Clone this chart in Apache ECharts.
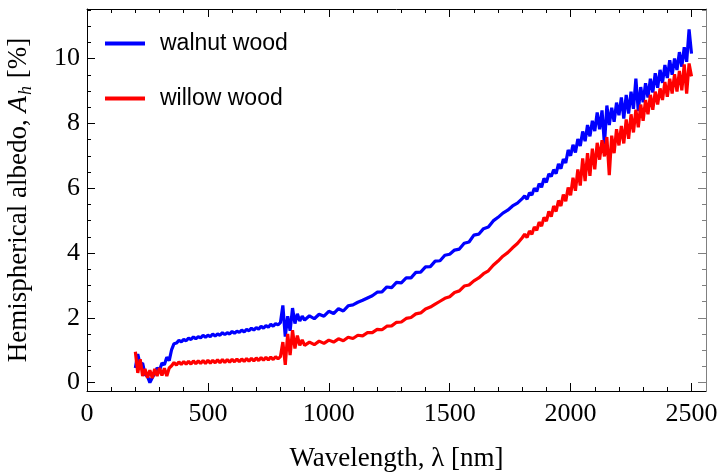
<!DOCTYPE html>
<html lang="en">
<head>
<meta charset="utf-8">
<title>Hemispherical albedo</title>
<script src="https://cdn.jsdelivr.net/npm/echarts@6/dist/echarts.min.js"></script>
<style>
  html, body { margin: 0; padding: 0; background: #fff; }
  #main { width: 719px; height: 473px; }
</style>
</head>
<body>
<div id="main"></div>
<script>
// wavelength grid in nm
const wavelength = [
  200, 210, 220, 230, 240, 250, 260, 270, 280, 290,
  300, 310, 320, 330, 340, 350, 360, 370, 380, 390,
  400, 410, 420, 430, 440, 450, 460, 470, 480, 490,
  500, 510, 520, 530, 540, 550, 560, 570, 580, 590,
  600, 610, 620, 630, 640, 650, 660, 670, 680, 690,
  700, 710, 720, 730, 740, 750, 760, 770, 780, 790,
  800, 810, 820, 830, 840, 850, 860, 870, 880, 890,
  900,
  920, 940, 960, 980, 1000, 1020, 1040, 1060, 1080, 1100,
  1120, 1140, 1160, 1180, 1200, 1220, 1240, 1260, 1280, 1300,
  1320, 1340, 1360, 1380, 1400, 1420, 1440, 1460, 1480, 1500,
  1520, 1540, 1560, 1580, 1600, 1620, 1640, 1660, 1680, 1700,
  1720, 1740, 1760, 1780, 1800,
  1810, 1820, 1830, 1840, 1850, 1860, 1870, 1880, 1890, 1900,
  1910, 1920, 1930, 1940, 1950, 1960, 1970, 1980, 1990, 2000,
  2010, 2020, 2030, 2040, 2050, 2060, 2070, 2080, 2090, 2100,
  2110, 2120, 2130, 2140, 2150, 2160, 2170, 2180, 2190, 2200,
  2210, 2220, 2230, 2240, 2250, 2260, 2270, 2280, 2290, 2300,
  2310, 2320, 2330, 2340, 2350, 2360, 2370, 2380, 2390, 2400,
  2410, 2420, 2430, 2440, 2450, 2460, 2470, 2480, 2490, 2500
];

// hemispherical albedo [%], walnut wood (blue)
const walnut = [
  0.45, 0.88, 0.55, 0.6, 0.25, 0.2, 0.0, 0.15, 0.28, 0.45,
  0.38, 0.6, 0.55, 0.78, 0.68, 1.02, 1.2, 1.22, 1.3, 1.26,
  1.33, 1.29, 1.37, 1.33, 1.41, 1.35, 1.42, 1.38, 1.46, 1.4,
  1.46, 1.42, 1.5, 1.44, 1.5, 1.46, 1.54, 1.48, 1.54, 1.5,
  1.58, 1.52, 1.59, 1.55, 1.62, 1.56, 1.64, 1.6, 1.68, 1.62,
  1.7, 1.65, 1.74, 1.68, 1.76, 1.71, 1.8, 1.74, 1.82, 1.78,
  1.85, 2.38, 1.42, 2.05, 1.6, 2.3, 1.82, 2.12, 1.9, 2.05,
  1.93,
  2.06, 1.97, 2.11, 2.05, 2.2, 2.13, 2.28, 2.21, 2.37, 2.4,
  2.48, 2.54, 2.61, 2.68, 2.79, 2.8, 2.95, 2.93, 3.09, 3.08,
  3.23, 3.23, 3.4, 3.41, 3.57, 3.58, 3.75, 3.76, 3.93, 3.96,
  4.09, 4.12, 4.3, 4.34, 4.55, 4.58, 4.75, 4.8, 4.99, 5.1,
  5.23, 5.32, 5.45, 5.54, 5.68,
  5.76, 5.66, 5.86, 5.79, 6.0, 5.9, 6.14, 6.03, 6.3, 6.18,
  6.44, 6.36, 6.57, 6.45, 6.75, 6.6, 6.9, 6.78, 7.18, 7.0,
  7.34, 7.1, 7.52, 7.3, 7.75, 7.45, 7.95, 7.6, 8.08, 7.76,
  8.34, 7.82, 8.4, 7.35, 8.55, 7.95, 8.48, 8.05, 8.64, 8.25,
  8.8, 8.15, 8.88, 8.3, 8.98, 8.45, 9.38, 8.38, 9.12, 8.65,
  9.24, 8.8, 9.38, 8.95, 9.55, 9.1, 9.65, 9.25, 9.8, 9.4,
  9.95, 9.5, 10.0, 9.65, 10.2, 9.75, 10.35, 9.9, 10.9, 10.15
];

// hemispherical albedo [%], willow wood (red)
const willow = [
  0.95, 0.3, 0.72, 0.2, 0.42, 0.15, 0.38, 0.14, 0.42, 0.2,
  0.45, 0.22, 0.44, 0.2, 0.45, 0.52, 0.62, 0.54, 0.64, 0.56,
  0.65, 0.57, 0.66, 0.57, 0.67, 0.58, 0.67, 0.59, 0.68, 0.59,
  0.69, 0.6, 0.69, 0.61, 0.7, 0.61, 0.71, 0.62, 0.71, 0.63,
  0.72, 0.64, 0.73, 0.64, 0.73, 0.65, 0.74, 0.66, 0.75, 0.67,
  0.76, 0.68, 0.77, 0.69, 0.78, 0.7, 0.79, 0.71, 0.8, 0.73,
  0.8, 1.25, 0.55, 1.5, 0.85, 1.62, 1.05, 1.45, 1.15, 1.32,
  1.15,
  1.25, 1.17, 1.28, 1.21, 1.31, 1.25, 1.35, 1.29, 1.4, 1.36,
  1.46, 1.44, 1.54, 1.54, 1.64, 1.63, 1.74, 1.75, 1.86, 1.87,
  1.98, 2.01, 2.12, 2.15, 2.27, 2.33, 2.42, 2.51, 2.6, 2.65,
  2.78, 2.83, 2.98, 3.01, 3.14, 3.23, 3.36, 3.45, 3.62, 3.75,
  3.9, 4.01, 4.16, 4.29, 4.47,
  4.58, 4.48, 4.68, 4.58, 4.8, 4.7, 4.95, 4.83, 5.1, 4.98,
  5.28, 5.12, 5.45, 5.28, 5.62, 5.45, 5.8, 5.6, 6.02, 5.78,
  6.32, 5.92, 6.58, 6.08, 6.92, 6.22, 7.08, 6.38, 7.22, 6.58,
  7.4, 6.88, 7.48, 6.98, 7.58, 6.4, 7.62, 7.08, 7.82, 7.32,
  7.92, 7.38, 8.12, 7.52, 8.28, 7.72, 8.42, 7.88, 8.58, 8.08,
  8.72, 8.28, 8.88, 8.42, 8.98, 8.58, 9.08, 8.72, 9.28, 8.82,
  9.38, 8.92, 9.52, 8.98, 9.62, 9.02, 9.82, 8.92, 9.85, 9.45
];

const seriesNames = ['walnut wood', 'willow wood'];
const seriesColors = ['#0000ff', '#ff0000'];

const xMajor = [0, 500, 1000, 1500, 2000, 2500];
const xMinor = [100, 200, 300, 400, 600, 700, 800, 900, 1100, 1200, 1300, 1400,
  1600, 1700, 1800, 1900, 2100, 2200, 2300, 2400];
const yMajor = [0, 2, 4, 6, 8, 10];
const yMinor = [0.5, 1, 1.5, 2.5, 3, 3.5, 4.5, 5, 5.5, 6.5, 7, 7.5, 8.5, 9, 9.5, 10.5, 11, 11.5];

const X_MIN = 0, X_MAX = 2560;
const Y_MIN = -0.26, Y_MAX = 11.53;

const serif = 'Liberation Serif, Times New Roman, serif';

// one helper axis per side for major and minor ticks (ticks point inward)
function tickAxis(pos, ticks, len, color, showLine, extra) {
  return Object.assign({
    type: 'value',
    position: pos,
    min: pos === 'bottom' || pos === 'top' ? X_MIN : Y_MIN,
    max: pos === 'bottom' || pos === 'top' ? X_MAX : Y_MAX,
    axisLine: { show: showLine, onZero: false, lineStyle: { color: color, width: 1 } },
    axisTick: { show: true, inside: true, length: len, customValues: ticks, lineStyle: { color: color, width: 1 } },
    axisLabel: { show: false },
    splitLine: { show: false }
  }, extra || {});
}

const chart = echarts.init(document.getElementById('main'));

chart.setOption({
  animation: false,
  backgroundColor: '#fff',
  grid: { left: 87, right: 13, top: 9, bottom: 82, containLabel: false, outerBoundsMode: 'none' },
  legend: {
    orient: 'vertical',
    left: 105,
    top: 32,
    padding: 0,
    icon: 'rect',
    itemWidth: 40,
    itemHeight: 4,
    itemGap: 32,
    data: seriesNames,
    textStyle: { fontFamily: 'Liberation Sans, Arial, sans-serif', fontSize: 23, color: '#000', padding: [0, 0, 0, 10] }
  },
  xAxis: [
    tickAxis('bottom', xMajor, 8, '#000', true, {
      axisLabel: { show: true, customValues: xMajor, margin: 10, fontFamily: serif, fontSize: 26, color: '#000',
        formatter: function (v) { return String(v); } },
      name: 'Wavelength, λ [nm]',
      nameLocation: 'middle',
      nameGap: 54,
      nameTextStyle: { fontFamily: serif, fontSize: 27, color: '#000' }
    }),
    tickAxis('bottom', xMinor, 4, '#000', false),
    tickAxis('top', xMajor, 8, '#000', true),
    tickAxis('top', xMinor, 4, '#000', false)
  ],
  yAxis: [
    tickAxis('left', yMajor, 8, '#000', true, {
      axisLabel: { show: true, customValues: yMajor, margin: 7, fontFamily: serif, fontSize: 26, color: '#000',
        formatter: function (v) { return String(v); } },
      name: '{r|Hemispherical albedo, }{i|A}{s|h}{r| [%]}',
      nameLocation: 'middle',
      nameGap: 52,
      nameTextStyle: {
        color: '#000',
        rich: {
          r: { fontFamily: serif, fontSize: 27, color: '#000', verticalAlign: 'top' },
          i: { fontFamily: serif, fontSize: 27, fontStyle: 'italic', color: '#000', verticalAlign: 'top' },
          s: { fontFamily: serif, fontSize: 18, fontStyle: 'italic', color: '#000', verticalAlign: 'bottom', padding: [12, 1, 0, 1] }
        }
      }
    }),
    tickAxis('left', yMinor, 4, '#000', false),
    tickAxis('right', yMajor, 8, '#808080', true),
    tickAxis('right', yMinor, 4, '#808080', false)
  ],
  series: seriesNames.map(function (name, k) {
    const vals = k === 0 ? walnut : willow;
    return {
      name: name,
      type: 'line',
      xAxisIndex: 0,
      yAxisIndex: 0,
      symbol: 'none',
      showSymbol: false,
      color: seriesColors[k],
      lineStyle: { color: seriesColors[k], width: 3.2 },
      data: wavelength.map(function (w, i) { return [w, vals[i]]; })
    };
  })
});
</script>
</body>
</html>
